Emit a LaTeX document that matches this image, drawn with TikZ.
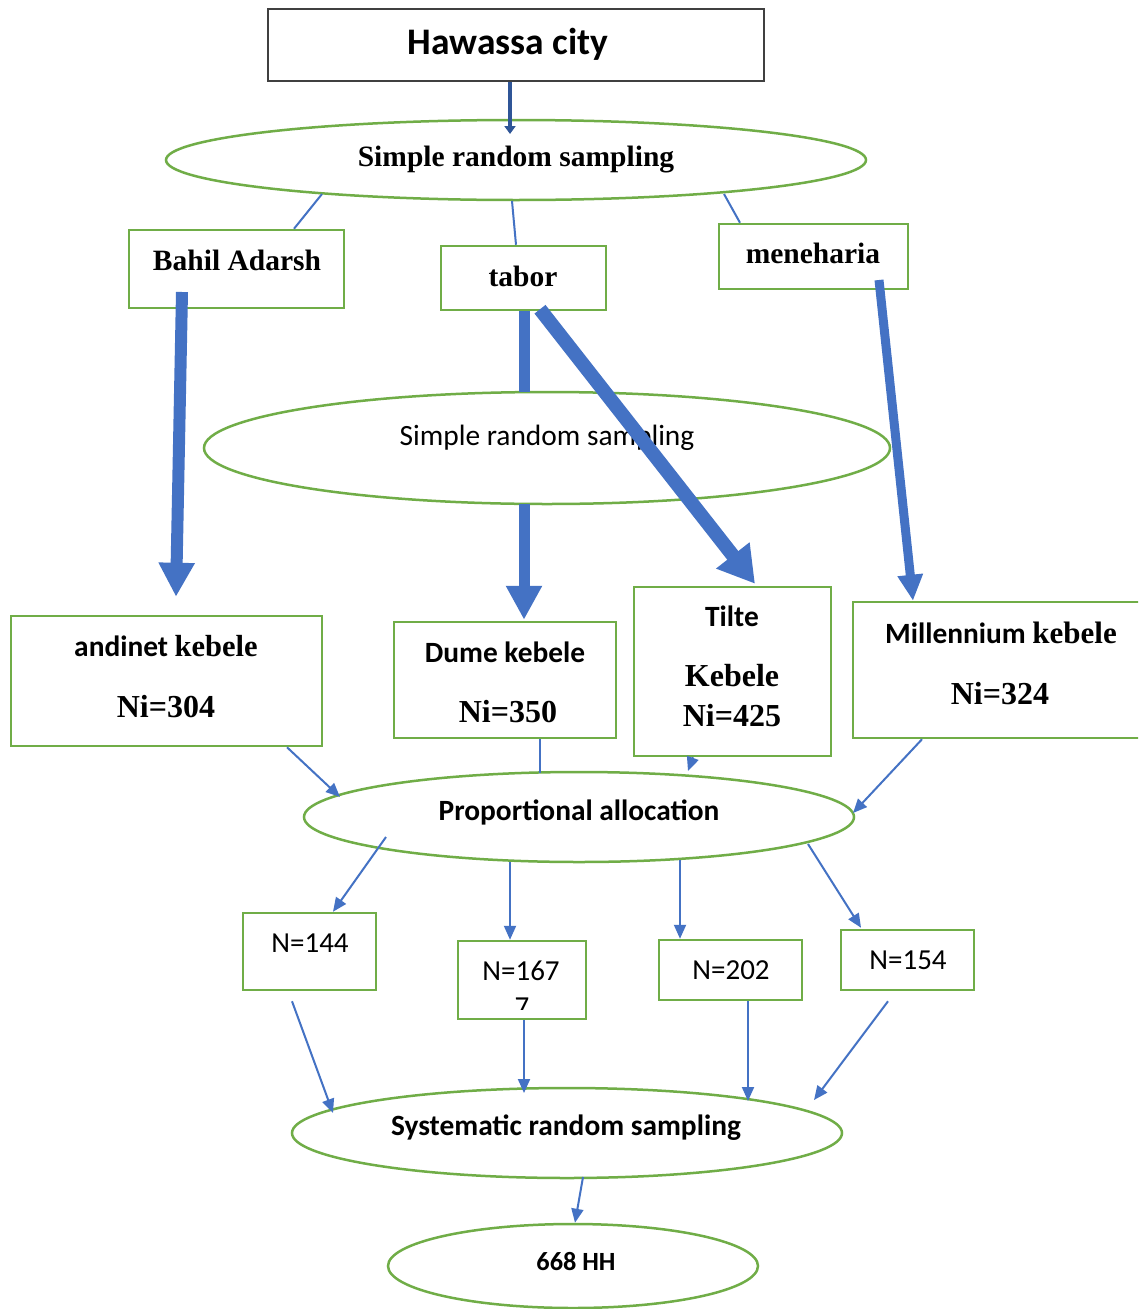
\documentclass[tikz,border=0pt]{standalone}
\usepackage{fontspec}
\setmainfont{Carlito}
\newfontfamily\tnr{Liberation Serif}
\usetikzlibrary{shapes.geometric,arrows.meta,calc}
\definecolor{grn}{HTML}{70AD47}
\definecolor{blu}{HTML}{4472C4}
\definecolor{dblu}{HTML}{2F5597}
\definecolor{gry}{HTML}{404040}
\tikzset{
  box/.style={draw=grn,line width=2.5pt,rectangle,inner sep=0pt},
  oval/.style={draw=grn,line width=2.5pt,ellipse,inner sep=0pt},
  thinline/.style={draw=blu,line width=2pt},
  thinarr/.style={thinline,-{Triangle[length=14pt,width=12pt]}},
  bigarr/.style={draw=blu,line width=12pt,-{Triangle[length=34pt,width=34pt]}},
  calb/.style={font=\fontsize{29.4}{34}\selectfont\bfseries},
  calr/.style={font=\fontsize{29}{34}\selectfont},
  tnrb/.style={font=\tnr\fontsize{29.5}{34}\selectfont\bfseries},
  tnrbig/.style={font=\tnr\fontsize{32}{36}\selectfont\bfseries},
}
\begin{document}
\begin{tikzpicture}[x=1pt,y=-1pt]
\fill[white] (0,0) rectangle (1138,1309);
\useasboundingbox (0,0) rectangle (1138,1309);
\clip (0,0) rectangle (1138,1309);

% nodes
\node[draw=gry,line width=2pt,rectangle,minimum width=496pt,minimum height=72pt] (hc) at (516,45) {};
\node[font=\fontsize{37.5}{42}\selectfont\bfseries] (thc) at (508,44) {Hawassa city};

\node[oval,minimum width=700pt,minimum height=80pt] (e1) at (516,160) {};
\node[tnrb] (te1) at (516,160) {Simple random sampling};

\node[box,minimum width=215pt,minimum height=78pt] (ba) at (236.5,269) {};
\node[tnrb] (tba) at (237,260) {Bahil Adarsh};
\node[box,minimum width=165pt,minimum height=64pt] (tb) at (523.5,278) {};
\node[tnrb] (ttb) at (523,276) {tabor};
\node[box,minimum width=189pt,minimum height=65pt] (mh) at (813.5,256.5) {};
\node[tnrb] (tmh) at (813,253) {meneharia};

\node[oval,minimum width=686pt,minimum height=112pt] (e2) at (547,448) {};
\node[font=\fontsize{29.4}{34}\selectfont] (te2) at (547,438) {Simple random sampling};

\node[box,minimum width=311pt,minimum height=130pt] (an) at (166.5,681) {};
\node[calb] (tan1) at (166,646) {andinet {\tnr\fontsize{30.5}{34}\selectfont kebele}};
\node[tnrbig] (tan2) at (166,707) {Ni=304};

\node[box,minimum width=222pt,minimum height=116pt] (du) at (505,680) {};
\node[calb] (tdu1) at (505,652) {Dume kebele};
\node[tnrbig] (tdu2) at (508,712) {Ni=350};

\node[box,minimum width=197pt,minimum height=169pt] (ti) at (732.5,671.5) {};
\node[calb] (tti1) at (732,616) {Tilte};
\node[tnrbig] (tti2) at (732,676) {Kebele};
\node[tnrbig] (tti3) at (732,716) {Ni=425};

\node[box,minimum width=289pt,minimum height=136pt] (mi) at (997.5,670) {};
\node[calb] (tmi1) at (1001,633) {Millennium {\tnr\fontsize{31}{34}\selectfont kebele}};
\node[tnrbig] (tmi2) at (1000,694) {Ni=324};

\node[oval,minimum width=550pt,minimum height=90pt] (e3) at (579,817) {};
\node[calb] (te3) at (579,812) {Proportional allocation};

\node[box,minimum width=133pt,minimum height=77pt] (n1) at (309.5,951.5) {};
\node[calr] (tn1) at (310,943) {N=144};
\node[box,minimum width=128pt,minimum height=78pt] (n2) at (522,980) {};
\node[calr] (tn2) at (521,971) {N=167};
\begin{scope}
  \clip (459,942) rectangle (585,1009.5);
  \node[calr,anchor=north,inner sep=0pt] (tn2b) at (522,998) {7};
\end{scope}
\node[box,minimum width=143pt,minimum height=60pt] (n3) at (730.5,970) {};
\node[calr] (tn3) at (731,970) {N=202};
\node[box,minimum width=133pt,minimum height=60pt] (n4) at (907.5,960) {};
\node[calr] (tn4) at (908,960) {N=154};

\node[oval,minimum width=550pt,minimum height=90pt] (e4) at (567,1133) {};
\node[calb] (te4) at (566,1128) {Systematic random sampling};

\node[oval,minimum width=370pt,minimum height=84pt] (e5) at (573,1266) {};
\node[font=\fontsize{26.3}{30}\selectfont\bfseries] (te5) at (576,1262) {668 HH};

% connectors
\draw[draw=dblu,line width=4.5pt,-{Triangle[length=8pt,width=11pt]}] ($(hc.south)+(-6,0)$) -- ($(e1.center)+(-6,-26)$);
\draw[thinline] ($(e1.center)+(-194,34)$) -- ($(ba.north)+(57.5,0)$);
\draw[thinline] ($(e1.center)+(-4,41)$) -- ($(tb.north)+(-7.5,0)$);
\draw[thinline] ($(e1.center)+(208,34)$) -- ($(mh.north)+(-73.5,0)$);

\draw[bigarr] ($(ba.center)+(-54.5,23)$) -- ($(an.north)+(9.5,-18)$);
\draw[draw=blu,line width=11pt] ($(tb.south)+(0.5,0)$) -- ($(e2.center)+(-23,-56)$);
\draw[bigarr,line width=11pt] ($(e2.center)+(-23,56)$) -- ($(du.north)+(19,-1)$);
\draw[draw=blu,line width=14pt,-{Triangle[length=36pt,width=40pt]}] ($(tb.south)+(16.5,-2)$) -- ($(ti.north)+(22.5,-2)$);
\draw[draw=blu,line width=9pt,-{Triangle[length=26pt,width=24pt]}] ($(mh.center)+(65.5,23.5)$) -- ($(mi.north)+(-84.5,0)$);

\draw[thinarr] ($(an.south)+(120.5,0)$) -- ($(e3.center)+(-239,-20)$);
\draw[thinline] ($(du.south)+(35,0)$) -- ($(e3.center)+(-39,-44)$);
\draw[thinarr] ($(ti.south)+(-39.5,0)$) -- ($(e3.center)+(109,-46)$);
\draw[thinarr] ($(mi.south)+(-75.5,0)$) -- ($(e3.center)+(274,-4)$);

\draw[thinarr] ($(e3.center)+(-193,20)$) -- ($(n1.north)+(23.5,0)$);
\draw[thinarr] ($(e3.center)+(-69,45)$) -- ($(n2.north)+(-12,0)$);
\draw[thinarr] ($(e3.center)+(101,43)$) -- ($(n3.north)+(-50.5,0)$);
\draw[thinarr] ($(e3.center)+(229,27)$) -- ($(n4.north)+(-46.5,-1)$);

\draw[thinarr] ($(n1.south)+(-17.5,10)$) -- ($(e4.center)+(-234,-20)$);
\draw[thinarr] ($(n2.south)+(2,0)$) -- ($(e4.center)+(-43,-40)$);
\draw[thinarr] ($(n3.south)+(17.5,0)$) -- ($(e4.center)+(181,-32)$);
\draw[thinarr] ($(n4.south)+(-19.5,10)$) -- ($(e4.center)+(247,-33)$);

\draw[thinarr] ($(e4.center)+(16,44)$) -- ($(e5.north)+(2,0)$);
\end{tikzpicture}
\end{document}
